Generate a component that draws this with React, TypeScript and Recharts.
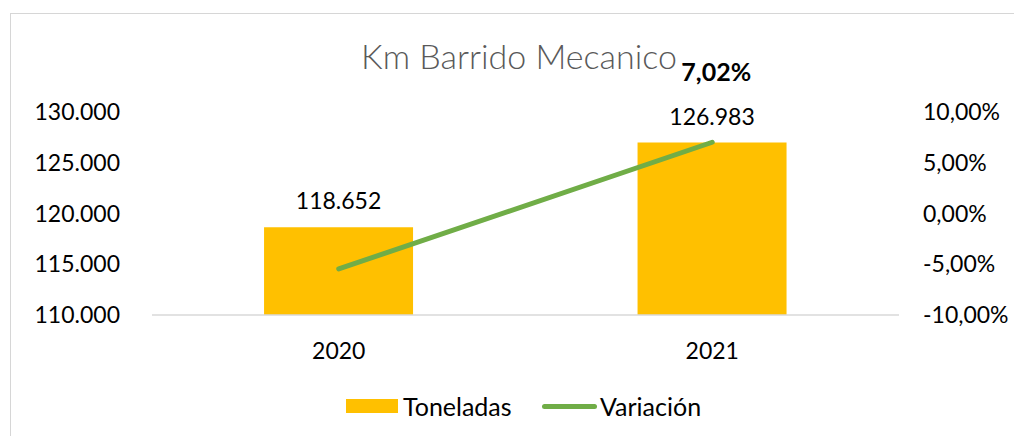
import React from 'react';
import { ComposedChart, Bar, Line, XAxis, YAxis, Legend, LabelList } from 'recharts';

const years = ['2020', '2021'];
const toneladas = [118652, 126983];
const variacion = [-5.46, 7.02];
const leftTicks = [110000, 115000, 120000, 125000, 130000];
const rightTicks = [-10, -5, 0, 5, 10];

const data = years.map((year, i) => ({
  year,
  Toneladas: toneladas[i],
  Variación: variacion[i],
}));

const FONT = 'Lato, "Open Sans", sans-serif';

const fmtMiles = (v: number) => String(Math.round(v)).replace(/\B(?=(\d{3})+(?!\d))/g, '.');
const fmtPct = (v: number) => v.toFixed(2).replace('.', ',') + '%';

// only the 2021 point carries its label in the original
const VarLabel = (props: any) => {
  const { x, y, index, value } = props;
  if (index !== 1) return null;
  return (
    <text x={x + 4} y={y - 61} textAnchor="middle" fontFamily={FONT} fontSize={25} fontWeight="bold" fill="#000">
      {fmtPct(value)}
    </text>
  );
};

const LegendBox = () => (
  <div style={{ position: 'relative', height: 30, fontFamily: FONT, fontSize: 25, color: '#000' }}>
    <div style={{ position: 'absolute', left: 346, top: 8, width: 52, height: 14, background: '#FFC000' }} />
    <span style={{ position: 'absolute', left: 403, top: 0, lineHeight: '30px' }}>Toneladas</span>
    <div style={{ position: 'absolute', left: 542, top: 13, width: 55, height: 5, borderRadius: 3, background: '#70AD47' }} />
    <span style={{ position: 'absolute', left: 600, top: 0, lineHeight: '30px' }}>Variación</span>
  </div>
);

export default function App() {
  const tickStyle = { fontFamily: FONT, fontSize: 23, fill: '#000' };
  return (
    <div style={{ position: 'absolute', left: 0, top: 0, width: 1014, height: 436, background: '#fff', overflow: 'hidden' }}>
      <div style={{ position: 'absolute', left: 10, top: 13, width: 1100, height: 500, border: '1px solid #d6d6d6' }} />
      <ComposedChart
        width={1014}
        height={436}
        data={data}
        margin={{ top: 112, right: 0, bottom: 61, left: 0 }}
        barCategoryGap="30%"
        style={{ position: 'absolute', left: 0, top: 0 }}
      >
        <text x={519} y={69} textAnchor="middle" fontFamily={FONT} fontSize={34} fontWeight={300} fill="#595959">
          Km Barrido Mecanico
        </text>
        <XAxis
          dataKey="year"
          height={30}
          tickLine={false}
          tickSize={0}
          tickMargin={28}
          axisLine={{ stroke: '#d9d9d9', strokeWidth: 1.5 }}
          tick={tickStyle}
        />
        <YAxis
          yAxisId="left"
          width={152}
          domain={[110000, 130000]}
          ticks={leftTicks}
          tickFormatter={fmtMiles}
          axisLine={false}
          tickLine={false}
          tickSize={0}
          tickMargin={32}
          tick={tickStyle}
        />
        <YAxis
          yAxisId="right"
          orientation="right"
          width={115}
          domain={[-10, 10]}
          ticks={rightTicks}
          tickFormatter={fmtPct}
          axisLine={false}
          tickLine={false}
          tickSize={0}
          tickMargin={24}
          tick={tickStyle}
        />
        <Bar yAxisId="left" dataKey="Toneladas" fill="#FFC000" isAnimationActive={false}>
          <LabelList
            dataKey="Toneladas"
            position="top"
            offset={18}
            formatter={(v: any) => fmtMiles(v)}
            style={{ fontFamily: FONT, fontSize: 23, fill: '#000' }}
          />
        </Bar>
        <Line
          yAxisId="right"
          dataKey="Variación"
          stroke="#70AD47"
          strokeWidth={5}
          strokeLinecap="round"
          dot={false}
          activeDot={false}
          isAnimationActive={false}
        >
          <LabelList dataKey="Variación" content={VarLabel} />
        </Line>
        <Legend verticalAlign="bottom" content={LegendBox} wrapperStyle={{ left: 0, top: 391, width: 1014 }} />
      </ComposedChart>
    </div>
  );
}
